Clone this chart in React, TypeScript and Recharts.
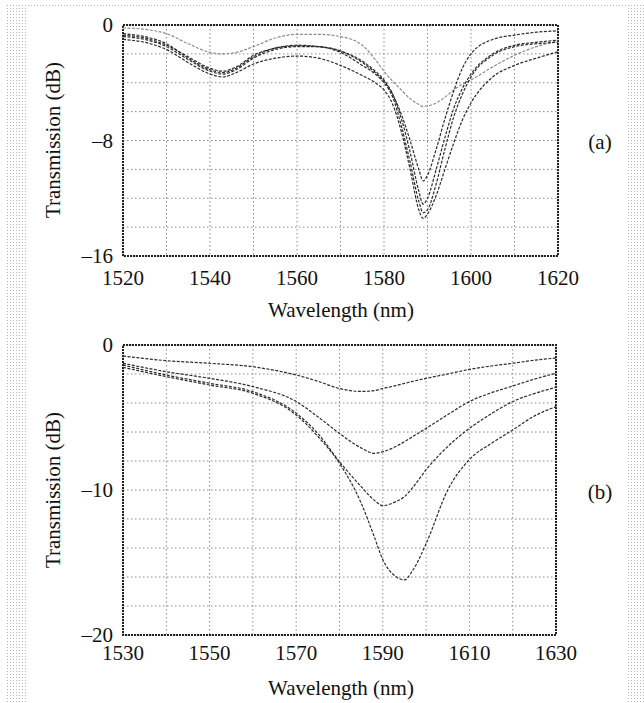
import {
  LineChart,
  Line,
  XAxis,
  YAxis,
  CartesianGrid,
  ReferenceArea,
} from 'recharts';

// panel (a): wavelength grid (nm) and transmission (dB) of five spectra
const wavelengthsA = [
  1520, 1525, 1530, 1535, 1540, 1543, 1546, 1550, 1555, 1560, 1565, 1570, 1575, 1578, 1580,
  1582, 1584, 1586, 1588, 1589, 1590, 1592, 1594, 1596, 1598, 1600, 1605, 1610, 1615, 1620,
];
const shallowA = [
  -0.2, -0.3, -0.6, -1.3, -1.9, -2.0, -1.9, -1.5, -0.9, -0.65, -0.65, -0.8, -1.4, -2.4, -3.2,
  -3.9, -4.5, -5.1, -5.5, -5.65, -5.6, -5.4, -5.0, -4.5, -4.1, -3.8, -2.9, -2.1, -1.5, -1.1,
];
const deepA1 = [
  -0.7, -0.9, -1.4, -2.2, -3.0, -3.2, -2.9, -2.1, -1.6, -1.4, -1.5, -1.8, -2.6, -3.3, -3.9,
  -4.8, -6.2, -8.0, -10.0, -10.8, -10.4, -8.6, -6.5, -4.6, -3.0, -2.0, -1.0, -0.7, -0.5, -0.4,
];
const deepA2 = [
  -0.8, -1.0, -1.5, -2.4, -3.2, -3.4, -3.1, -2.3, -1.7, -1.5, -1.5, -1.8, -2.5, -3.2, -3.8,
  -4.8, -6.5, -8.8, -11.5, -12.4, -12.0, -10.0, -7.8, -5.8, -4.4, -3.4, -2.0, -1.4, -1.2, -1.05,
];
const deepA3 = [
  -0.6, -0.8, -1.3, -2.3, -3.1, -3.3, -3.0, -2.2, -1.6, -1.45, -1.5, -1.9, -2.8, -3.4, -4.0,
  -5.0, -7.0, -9.5, -12.2, -13.0, -12.8, -11.0, -8.6, -6.4, -4.8, -3.6, -2.1, -1.5, -1.3, -1.2,
];
const deepA4 = [
  -1.0, -1.2, -1.7, -2.6, -3.4, -3.6, -3.3, -2.7, -2.3, -2.15, -2.3, -2.8, -3.5, -4.0, -4.5,
  -5.5, -7.4, -10.0, -12.8, -13.4, -13.1, -11.8, -10.0, -8.2, -6.6, -5.4, -3.6, -2.8, -2.3, -1.85,
];

// panel (b)
const wavelengthsB = [
  1530, 1540, 1550, 1560, 1570, 1575, 1580, 1585, 1588, 1590, 1593, 1595, 1597, 1600, 1605,
  1610, 1615, 1620, 1625, 1630,
];
const curveB1 = [
  -0.76, -1.08, -1.26, -1.5, -2.07, -2.5, -3.0, -3.2, -3.15, -3.0, -2.8, -2.65, -2.5, -2.3, -2.0,
  -1.68, -1.45, -1.26, -1.05, -0.9,
];
const curveB2 = [
  -1.26, -1.84, -2.3, -2.87, -3.9, -4.95, -6.1, -7.1, -7.47, -7.36, -7.0, -6.67, -6.3, -5.75, -4.8,
  -3.9, -3.3, -2.83, -2.35, -1.95,
];
const curveB3 = [
  -1.38, -2.07, -2.64, -3.22, -4.7, -6.1, -8.05, -9.77, -10.7, -11.08, -10.8, -10.46, -9.8, -8.6, -7.0,
  -5.75, -4.75, -3.9, -3.35, -2.92,
];
const curveB4 = [
  -1.54, -2.18, -2.76, -3.33, -4.83, -6.3, -8.16, -10.9, -13.2, -14.8, -15.97, -16.2, -15.5, -13.7, -10.0,
  -7.9, -6.8, -5.86, -4.9, -4.25,
];

const xTicksA = [1520, 1530, 1540, 1550, 1560, 1570, 1580, 1590, 1600, 1610, 1620];
const yTicksA = [0, -2, -4, -6, -8, -10, -12, -14, -16];
const xTicksB = [1530, 1540, 1550, 1560, 1570, 1580, 1590, 1600, 1610, 1620, 1630];
const yTicksB = [0, -2, -4, -6, -8, -10, -12, -14, -16, -18, -20];

const dataA = wavelengthsA.map((w, i) => ({
  w,
  g: shallowA[i],
  d1: deepA1[i],
  d2: deepA2[i],
  d3: deepA3[i],
  d4: deepA4[i],
}));
const dataB = wavelengthsB.map((w, i) => ({
  w,
  b1: curveB1[i],
  b2: curveB2[i],
  b3: curveB3[i],
  b4: curveB4[i],
}));

const font = 'Liberation Serif, DejaVu Serif, serif';
const tickStyle = { fontSize: 21, fill: '#111', fontFamily: font };
const ink = '#2b2b2b';

const fmtY = (labels: number[]) => (v: number) =>
  labels.includes(v) ? (v < 0 ? '\u2013' + Math.abs(v) : String(v)) : '';
const fmtX = (labels: number[]) => (v: number) => (labels.includes(v) ? String(v) : '');

const textBase: React.CSSProperties = {
  position: 'absolute',
  fontFamily: font,
  fontSize: 21,
  color: '#111',
  whiteSpace: 'nowrap',
  lineHeight: 1,
};

function Centered({ x, y, text, rotate }: { x: number; y: number; text: string; rotate?: boolean }) {
  return (
    <div
      style={{
        ...textBase,
        left: x,
        top: y,
        transform: `translate(-50%, -50%)${rotate ? ' rotate(-90deg)' : ''}`,
      }}
    >
      {text}
    </div>
  );
}

function PanelA() {
  return (
    <LineChart
      width={644}
      height={330}
      data={dataA}
      margin={{ top: 25, right: 86, bottom: 0, left: 0 }}
    >
      <CartesianGrid stroke="#8a8a8a" strokeDasharray="1.5 2.5" />
      <XAxis
        dataKey="w"
        type="number"
        domain={[1520, 1620]}
        ticks={xTicksA}
        tickFormatter={fmtX([1520, 1540, 1560, 1580, 1600, 1620])}
        tick={tickStyle}
        tickLine={false}
        axisLine={false}
        tickMargin={8}
        height={74}
        interval={0}
      />
      <YAxis
        type="number"
        domain={[-16, 0]}
        ticks={yTicksA}
        tickFormatter={fmtY([0, -8, -16])}
        tick={tickStyle}
        tickLine={false}
        axisLine={false}
        tickMargin={4}
        width={123}
        interval={0}
      />
      <ReferenceArea x1={1520} x2={1620} y1={-16} y2={0} fill="none" stroke="#222" strokeWidth={2} strokeDasharray="2 1" />
      <Line dataKey="g" type="monotone" stroke="#8c8c8c" strokeWidth={1.2} strokeDasharray="3 1.5" dot={false} isAnimationActive={false} />
      <Line dataKey="d1" type="monotone" stroke={ink} strokeWidth={1.2} strokeDasharray="3 1.5" dot={false} isAnimationActive={false} />
      <Line dataKey="d2" type="monotone" stroke={ink} strokeWidth={1.2} strokeDasharray="3 1.5" dot={false} isAnimationActive={false} />
      <Line dataKey="d3" type="monotone" stroke={ink} strokeWidth={1.2} strokeDasharray="3 1.5" dot={false} isAnimationActive={false} />
      <Line dataKey="d4" type="monotone" stroke={ink} strokeWidth={1.2} strokeDasharray="3 1.5" dot={false} isAnimationActive={false} />
    </LineChart>
  );
}

function PanelB() {
  return (
    <LineChart
      width={644}
      height={373}
      data={dataB}
      margin={{ top: 15, right: 88, bottom: 0, left: 0 }}
    >
      <CartesianGrid stroke="#8a8a8a" strokeDasharray="1.5 2.5" />
      <XAxis
        dataKey="w"
        type="number"
        domain={[1530, 1630]}
        ticks={xTicksB}
        tickFormatter={fmtX([1530, 1550, 1570, 1590, 1610, 1630])}
        tick={tickStyle}
        tickLine={false}
        axisLine={false}
        tickMargin={4}
        height={68}
        interval={0}
      />
      <YAxis
        type="number"
        domain={[-20, 0]}
        ticks={yTicksB}
        tickFormatter={fmtY([0, -10, -20])}
        tick={tickStyle}
        tickLine={false}
        axisLine={false}
        tickMargin={4}
        width={123}
        interval={0}
      />
      <ReferenceArea x1={1530} x2={1630} y1={-20} y2={0} fill="none" stroke="#222" strokeWidth={2} strokeDasharray="2 1" />
      <Line dataKey="b1" type="monotone" stroke={ink} strokeWidth={1.2} strokeDasharray="3 1.5" dot={false} isAnimationActive={false} />
      <Line dataKey="b2" type="monotone" stroke={ink} strokeWidth={1.2} strokeDasharray="3 1.5" dot={false} isAnimationActive={false} />
      <Line dataKey="b3" type="monotone" stroke={ink} strokeWidth={1.2} strokeDasharray="3 1.5" dot={false} isAnimationActive={false} />
      <Line dataKey="b4" type="monotone" stroke={ink} strokeWidth={1.2} strokeDasharray="3 1.5" dot={false} isAnimationActive={false} />
    </LineChart>
  );
}

export default function App() {
  const dots = 'radial-gradient(circle, #b5b5b5 0.8px, transparent 1px)';
  return (
    <div style={{ position: 'absolute', left: 0, top: 0, width: 644, height: 703, background: '#fff', overflow: 'hidden' }}>
      <div style={{ position: 'absolute', left: 6, top: 4, width: 638, height: 699, backgroundImage: dots, backgroundSize: '3px 3px' }} />
      <div style={{ position: 'absolute', left: 27, top: 8, width: 599, height: 695, background: '#fff' }} />
      <div style={{ position: 'absolute', left: 0, top: 0 }}>
        <PanelA />
      </div>
      <div style={{ position: 'absolute', left: 0, top: 330 }}>
        <PanelB />
      </div>
      <Centered x={53} y={140} text="Transmission (dB)" rotate />
      <Centered x={341} y={310} text="Wavelength (nm)" />
      <Centered x={600} y={142} text="(a)" />
      <Centered x={53} y={490} text="Transmission (dB)" rotate />
      <Centered x={341} y={688} text="Wavelength (nm)" />
      <Centered x={600} y={492} text="(b)" />
    </div>
  );
}
